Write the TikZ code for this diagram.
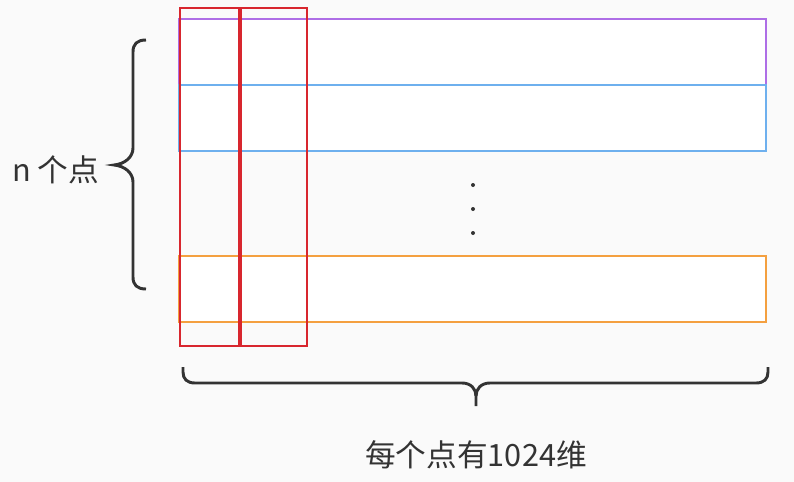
\documentclass[tikz,border=0pt]{standalone}
\usepackage{fontspec}
\setmainfont{Noto Sans CJK SC}
\newfontfamily\cjk{Noto Sans CJK SC}
\definecolor{bgc}{HTML}{FAFAFA}
\definecolor{purp}{HTML}{AE6EE6}
\definecolor{bluec}{HTML}{6EB0EE}
\definecolor{orangec}{HTML}{F4A040}
\definecolor{redc}{HTML}{D8262E}
\definecolor{inkc}{HTML}{333333}
\begin{document}
\begin{tikzpicture}[x=0.75pt,y=-0.75pt,
  rowbox/.style={line width=2pt, fill=white},
  colbox/.style={draw=redc, line width=1.8pt},
  bracec/.style={draw=inkc, line width=2.2pt},
  lbl/.style={inner sep=0pt, text=inkc, font=\cjk\fontsize{23pt}{26pt}\selectfont}]
\fill[bgc] (0,0) rectangle (794,482);
\useasboundingbox (0,0) rectangle (794,482);
% rows
\draw[rowbox, draw=purp] (179,19) rectangle (766,85);
\draw[rowbox, draw=bluec] (179,85) rectangle (766,151);
\draw[rowbox, draw=orangec] (179,256) rectangle (766,322);
% columns
\draw[colbox] (180,8) rectangle (240,346);
\draw[colbox] (240,8) rectangle (307,346);
\draw[redc, line width=2.4pt] (240,8) -- (240,346);
% dots
\fill[inkc] (473,185) circle (2);
\fill[inkc] (473,209) circle (2);
\fill[inkc] (473,233) circle (2);
% left brace
\draw[bracec] (146,40) .. controls (137,40) and (133,44) .. (133,52) -- (133,148)
  .. controls (133,157) and (125,164) .. (114,165)
  .. controls (125,166) and (133,173) .. (133,182) -- (133,277)
  .. controls (133,285) and (137,289) .. (146,289);
% bottom brace
\draw[bracec] (183,367) -- (183,372) .. controls (183,379) and (187,383) .. (195,383) -- (462,383)
  .. controls (471,383) and (476,389) .. (476,396) -- (476,406);
\draw[bracec] (476,396) .. controls (476,389) and (481,383) .. (490,383) -- (756,383)
  .. controls (764,383) and (768,379) .. (768,372) -- (768,367);
% labels
\node[lbl, anchor=west] (n) at (12,170) {n 个点};
\node[lbl] (dim) at (476,455) {每个点有1024维};
\end{tikzpicture}
\end{document}
